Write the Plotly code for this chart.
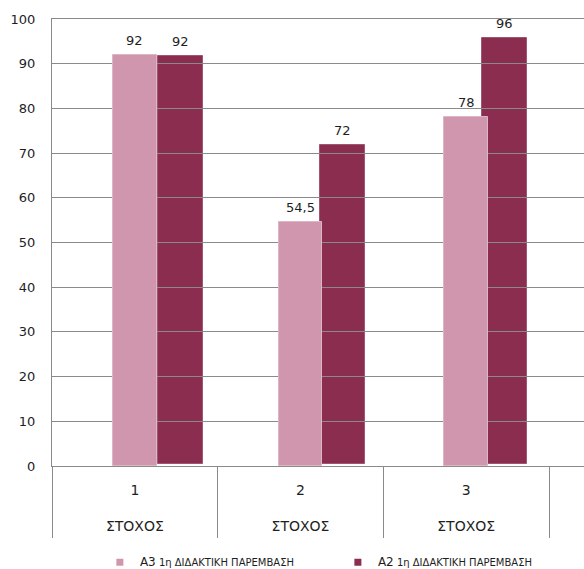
import plotly.graph_objects as go

# ---- data -------------------------------------------------------------
categories = ["1", "2", "3"]
group_label = "ΣΤΟΧΟΣ"
a3_values = [92, 54.5, 78]
a2_values = [92, 72, 96]
a3_name = "A3"
a2_name = "A2"
series_suffix = "1η ΔΙΔΑΚΤΙΚΗ ΠΑΡΕΜΒΑΣΗ"
y_ticks = list(range(0, 101, 10))

# ---- style ------------------------------------------------------------
PINK = "#CF96AE"
WINE = "#8B2D4E"
GRID = "#8A8A8A"
TEXT = "#1E1E1E"
FONT = "DejaVu Sans"


def fmt(v):
    """Greek decimal comma for the value labels."""
    return f"{v:g}".replace(".", ",")


fig = go.Figure()

# A2 bars live on their own hidden axes so they sit underneath the gridlines
fig.add_trace(go.Bar(
    x=categories, y=a2_values, width=0.278,
    xaxis="x", yaxis="y",
    marker=dict(color=WINE, line=dict(color="#A05572", width=1)),
    showlegend=False, hoverinfo="y",
))

# A3 bars on the visible axes, drawn above the gridlines
fig.add_trace(go.Bar(
    x=categories, y=a3_values, width=0.263,
    xaxis="x2", yaxis="y2",
    marker=dict(color=PINK, line=dict(color="#DDB6C6", width=1)),
    showlegend=False, hoverinfo="y",
))

# small square legend keys
for name, color in [(a3_name, PINK), (a2_name, WINE)]:
    fig.add_trace(go.Scatter(
        x=[None], y=[None], mode="markers",
        xaxis="x2", yaxis="y2",
        marker=dict(symbol="square", size=7, color=color),
        name=f"<span style='font-size:12px'>{name}</span> {series_suffix}",
    ))

# value labels above each bar (category positions given by index)
annotations = []
for i, v in enumerate(a3_values):
    annotations.append(dict(x=i, y=v, xref="x2", yref="y2", text=fmt(v),
                            showarrow=False, yanchor="bottom", yshift=5,
                            font=dict(family=FONT, size=13, color=TEXT)))
for i, v in enumerate(a2_values):
    annotations.append(dict(x=i, y=v, xref="x", yref="y", text=fmt(v),
                            showarrow=False, yanchor="bottom", yshift=5,
                            font=dict(family=FONT, size=13, color=TEXT)))

fig.update_layout(
    width=584, height=569, autosize=False,
    margin=dict(l=52, r=0, t=19, b=103, autoexpand=False),
    paper_bgcolor="white",
    plot_bgcolor="rgba(0,0,0,0)",
    font=dict(family=FONT, size=13, color=TEXT),
    bargap=0,
    xaxis=dict(type="category", range=[-0.793, 2.491], visible=False,
               anchor="y", domain=[0, 1]),
    yaxis=dict(range=[-0.447, 100.31], visible=False, anchor="x",
               domain=[0, 1]),
    xaxis2=dict(
        type="category", range=[-0.5, 2.711], anchor="y2", domain=[0, 1],
        tickmode="array", tickvals=categories,
        ticktext=[f"{c}<br><br>{group_label}" for c in categories],
        ticks="outside", tickson="boundaries", ticklen=71,
        tickcolor=GRID, tickwidth=1,
        showline=True, linecolor=GRID, linewidth=1, mirror=True,
        showgrid=False, zeroline=False,
        tickfont=dict(family=FONT, size=14, color=TEXT),
        ticklabelstandoff=11,
    ),
    yaxis2=dict(
        range=[0, 100], anchor="x2", domain=[0, 1],
        tickmode="array", tickvals=y_ticks,
        showgrid=True, gridcolor=GRID, gridwidth=1,
        showline=True, linecolor=GRID, linewidth=1,
        zeroline=False, ticks="",
        ticklabelstandoff=13,
        tickfont=dict(family=FONT, size=13, color=TEXT),
    ),
    legend=dict(
        orientation="h", x=0.09, y=-0.183, xanchor="left", yanchor="top",
        entrywidth=193, font=dict(family=FONT, size=10, color=TEXT),
        bgcolor="rgba(0,0,0,0)",
    ),
    annotations=annotations,
)

fig.write_html("out.html")
